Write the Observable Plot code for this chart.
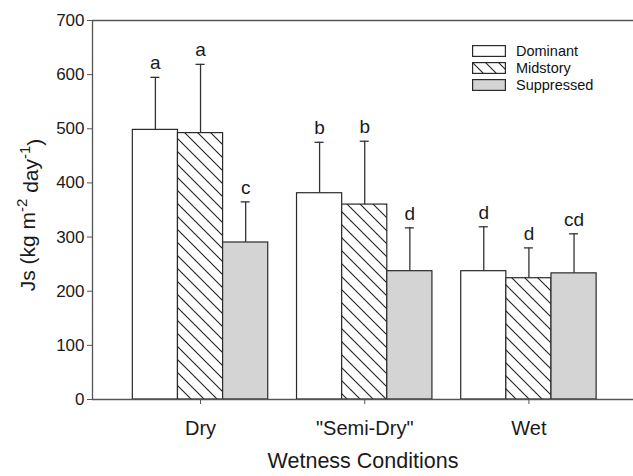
<!DOCTYPE html>
<html>
<head>
<meta charset="utf-8">
<script src="https://cdn.jsdelivr.net/npm/d3@7"></script>
<script src="https://cdn.jsdelivr.net/npm/@observablehq/plot@0.6"></script>
<style>
  html, body { margin: 0; padding: 0; background: #fff; }
  #wrap { position: relative; width: 633px; height: 476px; font-family: "Liberation Sans", Arial, sans-serif; }
  #wrap > svg { display: block; }
  #legend { position: absolute; left: 472px; top: 43px; font-size: 14.5px; color: #111; }
  #legend .row { display: flex; align-items: center; height: 16.8px; }
  #legend svg { margin-right: 10px; }
</style>
</head>
<body>
<div id="wrap"><div id="legend"></div></div>
<script>
// ---- data ----
const groups = ["Dry", "\"Semi-Dry\"", "Wet"];
const series = ["Dominant", "Midstory", "Suppressed"];
const meanDominant   = [498, 381, 237];
const meanMidstory   = [492, 360, 224];
const meanSuppressed = [290, 237, 233];
const seDominant     = [97, 94, 82];
const seMidstory     = [127, 117, 56];
const seSuppressed   = [75, 80, 73];
const letDominant    = ["a", "b", "d"];
const letMidstory    = ["a", "b", "d"];
const letSuppressed  = ["c", "d", "cd"];
const yTicks = [0, 100, 200, 300, 400, 500, 600, 700];
const fills = ["white", "url(#hatch)", "#d4d4d4"];

// layout in group units (1 unit = distance between group centres)
const barW = 0.2749;      // width of one bar
const capW = 0.055;       // width of an error-bar cap
const xDomain = [-0.658, 2.637];

const means = [meanDominant, meanMidstory, meanSuppressed];
const ses = [seDominant, seMidstory, seSuppressed];
const lets = [letDominant, letMidstory, letSuppressed];
const data = [];
groups.forEach((g, gi) => series.forEach((s, si) => {
  const c = gi + (si - 1) * barW;
  data.push({group: g, series: s, gi, c, mean: means[si][gi], top: means[si][gi] + ses[si][gi], letter: lets[si][gi]});
}));

const ink = "#1a1a1a";
const chart = Plot.plot({
  width: 633,
  height: 476,
  marginLeft: 92,
  marginRight: 0,
  marginTop: 20,
  marginBottom: 77,
  style: {fontFamily: "'Liberation Sans', Arial, sans-serif", color: ink, background: "white"},
  x: {domain: xDomain, label: null},
  y: {domain: [0, 700], label: null},
  color: {type: "ordinal", domain: series, range: fills},
  marks: [
    Plot.rectY(data, {x1: d => d.c - barW / 2, x2: d => d.c + barW / 2, y1: 0, y2: "mean", fill: "series", stroke: "#2a2a2a", strokeWidth: 1.2}),
    Plot.ruleX(data, {x: "c", y1: "mean", y2: "top", stroke: "#333", strokeWidth: 1.3}),
    Plot.ruleY(data, {x1: d => d.c - capW / 2, x2: d => d.c + capW / 2, y: "top", stroke: "#333", strokeWidth: 1.3}),
    Plot.text(data, {x: "c", y: "top", text: "letter", dy: -8, lineAnchor: "bottom", fontSize: 19, fill: ink}),
    Plot.ruleY([0, 700], {stroke: "#555", strokeWidth: 1.3}),
    Plot.ruleX([xDomain[0]], {stroke: "#555", strokeWidth: 1.3}),
    Plot.axisY({ticks: yTicks, tickSize: 5, tickPadding: 3, fontSize: 17, label: null, stroke: "#555"}),
    Plot.axisX({ticks: groups.map((g, i) => i), tickFormat: i => groups[i], tickSize: 5, tickPadding: 16, fontSize: 20, label: null, stroke: "#555"}),
    Plot.text(["Wetness Conditions"], {frameAnchor: "bottom", dy: 62, lineAnchor: "middle", fontSize: 21.5, fill: ink})
  ]
});

// hatch pattern definition
const svg = d3.select(chart);
const defs = svg.insert("defs", ":first-child");
const pat = defs.append("pattern").attr("id", "hatch").attr("patternUnits", "userSpaceOnUse")
  .attr("width", 13).attr("height", 13);
pat.append("rect").attr("width", 13).attr("height", 13).attr("fill", "white");
pat.append("path").attr("d", "M0,0L13,13M-13,0L0,13M13,0L26,13M0,-13L13,0M0,13L13,26")
  .attr("stroke", "#222").attr("stroke-width", 1.1);

// y-axis title with superscripts
const yt = svg.append("text")
  .attr("transform", "translate(35,215) rotate(-90)")
  .attr("text-anchor", "middle")
  .attr("font-size", 21)
  .attr("fill", ink);
yt.append("tspan").text("Js (kg m");
yt.append("tspan").attr("dy", "-0.55em").attr("font-size", 15).text("-2");
yt.append("tspan").attr("dy", "0.55em").text(" day");
yt.append("tspan").attr("dy", "-0.55em").attr("font-size", 15).text("-1");
yt.append("tspan").attr("dy", "0.55em").text(")");

document.getElementById("wrap").prepend(chart);

// legend
const leg = d3.select("#legend");
series.forEach((s, i) => {
  const row = leg.append("div").attr("class", "row");
  const sw = row.append("svg").attr("width", 34).attr("height", 12);
  if (i === 1) {
    const d = sw.append("defs").append("pattern").attr("id", "hatchL").attr("patternUnits", "userSpaceOnUse")
      .attr("width", 13).attr("height", 13);
    d.append("rect").attr("width", 13).attr("height", 13).attr("fill", "white");
    d.append("path").attr("d", "M0,0L13,13M-13,0L0,13M13,0L26,13").attr("stroke", "#222").attr("stroke-width", 1.1);
  }
  sw.append("rect").attr("x", 0.6).attr("y", 0.6).attr("width", 32.8).attr("height", 10.8)
    .attr("fill", i === 1 ? "url(#hatchL)" : fills[i]).attr("stroke", "#2a2a2a").attr("stroke-width", 1.2);
  row.append("span").text(s);
});
</script>
</body>
</html>
